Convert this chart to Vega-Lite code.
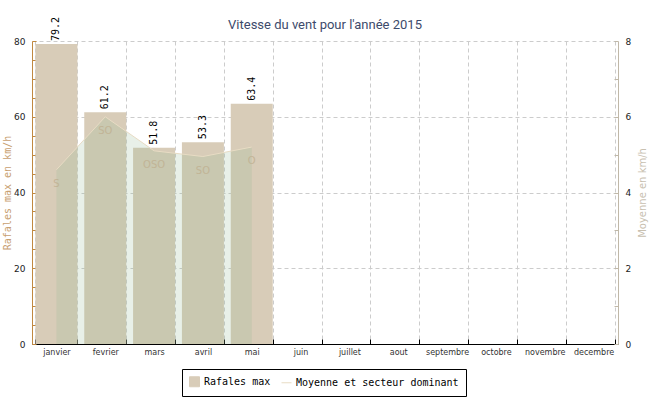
{
  "$schema": "https://vega.github.io/schema/vega-lite/v6.json",
  "width": 586,
  "height": 303,
  "autosize": {"type": "none"},
  "padding": {"left": 32, "top": 41, "right": 32, "bottom": 56},
  "background": "white",
  "title": {"text": "Vitesse du vent pour l'année 2015", "font": "Roboto", "fontSize": 13, "fontWeight": "normal", "color": "#3d4a6b", "frame": "group", "offset": 10, "dy": 25},
  "data": {"values": [
    {"mois": "janvier", "rafale": 79.2, "moy": 4.6, "dir": "S"},
    {"mois": "fevrier", "rafale": 61.2, "moy": 6.0, "dir": "SO"},
    {"mois": "mars", "rafale": 51.8, "moy": 5.1, "dir": "OSO"},
    {"mois": "avril", "rafale": 53.3, "moy": 4.95, "dir": "SO"},
    {"mois": "mai", "rafale": 63.4, "moy": 5.2, "dir": "O"},
    {"mois": "juin", "rafale": null, "moy": null, "dir": null},
    {"mois": "juillet", "rafale": null, "moy": null, "dir": null},
    {"mois": "aout", "rafale": null, "moy": null, "dir": null},
    {"mois": "septembre", "rafale": null, "moy": null, "dir": null},
    {"mois": "octobre", "rafale": null, "moy": null, "dir": null},
    {"mois": "novembre", "rafale": null, "moy": null, "dir": null},
    {"mois": "decembre", "rafale": null, "moy": null, "dir": null}
  ]},
  "encoding": {
    "x": {
      "field": "mois", "type": "nominal", "sort": null,
      "scale": {"domain": ["janvier","fevrier","mars","avril","mai","juin","juillet","aout","septembre","octobre","novembre","decembre"], "paddingInner": 0.14, "paddingOuter": 0.07},
      "axis": {"title": null, "labelAngle": 0, "tickBand": "extent", "domainColor": "black", "tickColor": "black", "tickSize": -5, "labelPadding": 9, "labelFont": "DejaVu Sans", "labelFontSize": 8, "labelColor": "#333", "grid": true, "gridDash": [4, 3], "gridColor": "#cccccc"}
    }
  },
  "layer": [
    {
      "encoding": {
        "y": {"type": "quantitative", "scale": {"domain": [0, 80], "nice": false},
          "axis": {"orient": "left", "title": "Rafales max en km/h", "titleFont": "DejaVu Sans Mono", "titleFontSize": 10, "titleFontWeight": "normal", "titleColor": "#c8a070", "titlePadding": 1,
            "values": [0,5,10,15,20,25,30,35,40,45,50,55,60,65,70,75,80],
            "labelExpr": "datum.value % 20 === 0 ? datum.label : ''",
            "labelFont": "DejaVu Sans", "labelFontSize": 9, "labelColor": "#222",
            "domainColor": "#c08840", "tickColor": "#c08840", "tickSize": -4, "labelPadding": 11,
            "grid": true, "gridDash": [4, 3], "gridColor": "#cccccc",
            "gridOpacity": {"condition": {"test": "datum.value % 20 === 0 && datum.value > 0", "value": 1}, "value": 0}}}
      },
      "layer": [
        {
          "mark": {"type": "bar", "color": "#d8ccb8"},
          "encoding": {
            "y": {"field": "rafale"},
            "color": {"datum": "Rafales max", "type": "nominal",
              "scale": {"domain": ["Rafales max", "Moyenne et secteur dominant"], "range": ["#d8ccb8", "#e8dcc4"]},
              "legend": {"orient": "none", "legendX": 150, "legendY": 328, "direction": "horizontal", "title": null,
                "strokeColor": "black", "fillColor": "white", "padding": 7, "columnPadding": 8, "labelLimit": 300,
                "labelFont": "DejaVu Sans Mono", "labelFontSize": 10, "labelColor": "black", "symbolSize": 100,
                "encode": {"symbols": {"update": {
                  "shape": {"signal": "datum.value === 'Rafales max' ? 'square' : 'stroke'"},
                  "stroke": {"signal": "datum.value === 'Rafales max' ? 'black' : '#e8dcc4'"},
                  "fill": {"signal": "datum.value === 'Rafales max' ? '#d8ccb8' : 'transparent'"},
                  "strokeWidth": {"value": 1}}}}}
            }
          }
        },
        {
          "mark": {"type": "text", "angle": 270, "align": "left", "baseline": "middle", "dx": 3, "font": "DejaVu Sans Mono", "fontSize": 10, "color": "black"},
          "encoding": {
            "y": {"field": "rafale"},
            "text": {"field": "rafale", "type": "quantitative", "format": ".1f"}
          }
        }
      ]
    },
    {
      "transform": [{"filter": "isValid(datum.moy)"}],
      "encoding": {
        "y": {"type": "quantitative", "scale": {"domain": [0, 8], "nice": false},
          "axis": {"orient": "right", "title": "Moyenne en km/h", "titleFont": "DejaVu Sans", "titleFontSize": 10, "titleFontWeight": "normal", "titleColor": "#c8c0b0", "titleAngle": 270, "titlePadding": 17,
            "values": [0,0.5,1,1.5,2,2.5,3,3.5,4,4.5,5,5.5,6,6.5,7,7.5,8],
            "format": "d",
            "labelExpr": "datum.value % 2 === 0 ? format(datum.value, 'd') : ''",
            "labelFont": "DejaVu Sans", "labelFontSize": 9, "labelColor": "#222",
            "domainColor": "#c0b8a8", "tickColor": "#c0b8a8", "tickSize": -4, "labelPadding": 11, "grid": false}}
      },
      "layer": [
        {
          "mark": {"type": "area", "color": "#98bb98", "opacity": 0.22},
          "encoding": {"y": {"field": "moy"}}
        },
        {
          "mark": {"type": "line", "strokeWidth": 1},
          "encoding": {"y": {"field": "moy"}, "color": {"datum": "Moyenne et secteur dominant", "type": "nominal"}}
        },
        {
          "mark": {"type": "text", "dy": 14, "font": "DejaVu Sans", "fontSize": 10, "color": "#c0b090", "opacity": 0.8},
          "encoding": {"y": {"field": "moy"}, "text": {"field": "dir"}}
        }
      ]
    }
  ],
  "resolve": {"scale": {"y": "independent"}},
  "config": {"view": {"stroke": null}}
}
